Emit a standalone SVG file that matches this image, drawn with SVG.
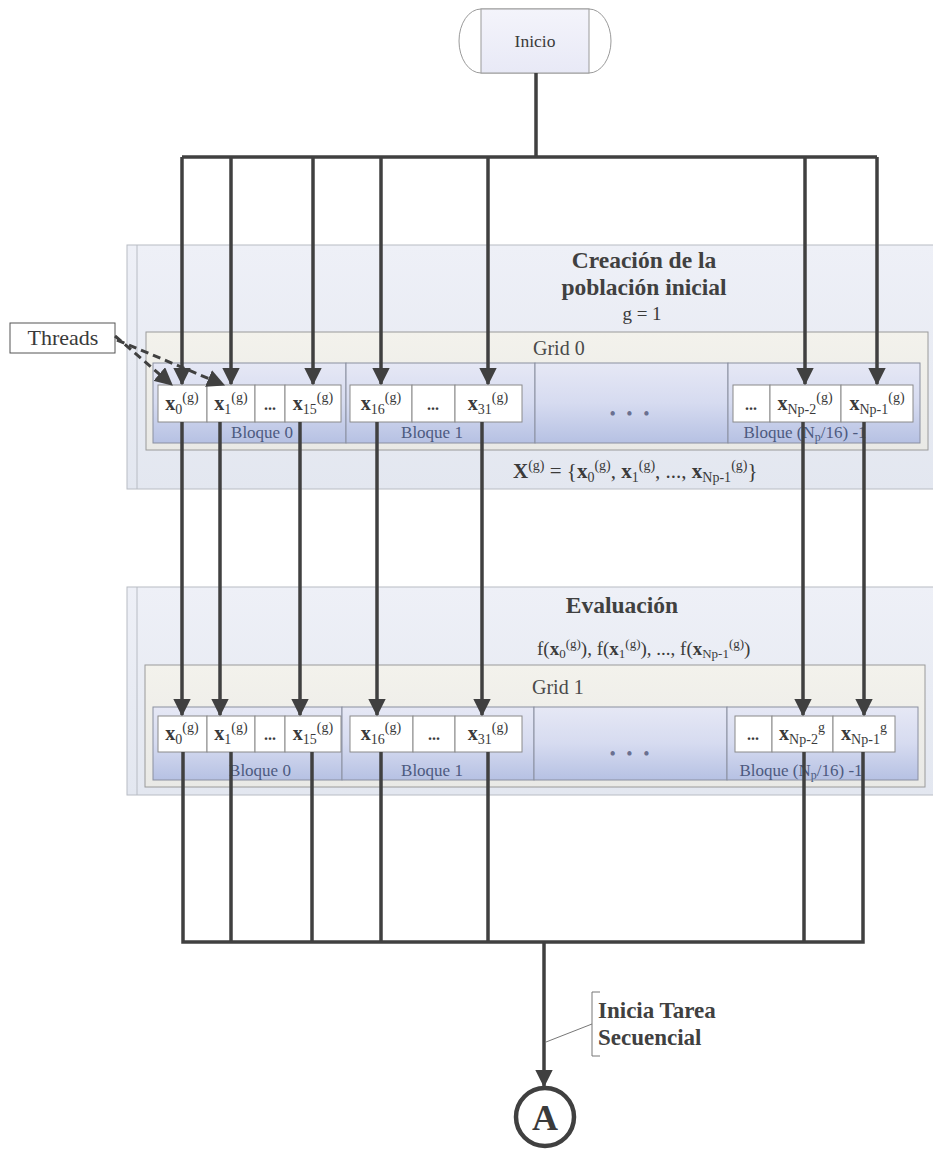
<svg xmlns="http://www.w3.org/2000/svg" width="933" height="1150" viewBox="0 0 933 1150">
<style>
text{font-family:"Liberation Serif","Times New Roman",serif;fill:#3a3a3a}
.title{font-size:23.5px;font-weight:bold;text-anchor:middle;fill:#404040}
.sub{font-size:19px;text-anchor:middle}
.grid{font-size:20px;fill:#4a4a4a}
.blk{font-size:17px;text-anchor:middle;fill:#4d5a80}
.cell{font-size:20px;text-anchor:middle}
.cell .b{font-weight:bold}
.cell .s{font-size:14px;font-weight:normal}
.dots{font-size:16px;font-weight:bold;text-anchor:middle}
.mdots{font-size:18px;text-anchor:middle;fill:#6a7090;letter-spacing:3px}
.outer{fill:url(#gOuter);stroke:#b8bcc4;stroke-width:1}
.gridbox{fill:url(#gGrid);stroke:#9a9a9a;stroke-width:1}
.block{fill:url(#gBlock);stroke:#8a8fa0;stroke-width:1}
.cellbox{fill:#ffffff;stroke:#8a8a8a;stroke-width:1}
.con{fill:none;stroke:#404040;stroke-width:3.5}
.dash{fill:none;stroke:#404040;stroke-width:3;stroke-dasharray:8 5}
.form{font-size:21px}
.lbl{font-size:23px;font-weight:bold;fill:#404040}
</style>
<defs>
<linearGradient id="gOuter" x1="0" y1="0" x2="0" y2="1">
<stop offset="0" stop-color="#eef0f7"/><stop offset="1" stop-color="#e3e7f0"/>
</linearGradient>
<linearGradient id="gGrid" x1="0" y1="0" x2="0" y2="1">
<stop offset="0" stop-color="#f3f2ec"/><stop offset="1" stop-color="#e9e9e6"/>
</linearGradient>
<linearGradient id="gBlock" x1="0" y1="0" x2="0" y2="1">
<stop offset="0" stop-color="#e6e8f5"/><stop offset="0.5" stop-color="#d6dbf0"/><stop offset="1" stop-color="#b6c1e3"/>
</linearGradient>
<linearGradient id="gInicio" x1="0" y1="0" x2="0" y2="1">
<stop offset="0" stop-color="#f4f4fb"/><stop offset="1" stop-color="#e8e9f6"/>
</linearGradient>
<marker id="arr" markerWidth="5" markerHeight="5" refX="4.6" refY="2.5" orient="auto" markerUnits="strokeWidth">
<path d="M0,0 L5,2.5 L0,5 Z" fill="#404040"/>
</marker>
<marker id="arrd" markerWidth="6" markerHeight="6" refX="5.6" refY="3" orient="auto" markerUnits="strokeWidth">
<path d="M0,0 L6,3 L0,6 Z" fill="#404040"/>
</marker>
</defs>

<!-- Inicio -->
<g id="inicio">
<path d="M481,9 H589 A22,32 0 0 1 589,73 H481 A22,32 0 0 1 481,9 Z" fill="#ffffff" stroke="#9a9a9a" stroke-width="1"/>
<rect x="481" y="9" width="108" height="64" fill="url(#gInicio)" stroke="#9a9a9a" stroke-width="1"/>
<text x="535" y="47" font-size="17.5" text-anchor="middle" fill="#444">Inicio</text>
</g>

<!-- Creación de la población inicial -->
<g id="creacion">
<rect class="outer" x="127" y="245" width="820" height="244"/>
<line x1="137" y1="245" x2="137" y2="489" stroke="#b8bcc4" stroke-width="1"/>
<text class="title" x="644" y="268">Creación de la</text>
<text class="title" x="644" y="295">población inicial</text>
<text class="sub" x="642" y="320">g = 1</text>
<text class="form" x="513" y="478"><tspan font-weight="bold">X</tspan><tspan font-size="14" dy="-8">(g)</tspan><tspan dy="8"> = {</tspan><tspan font-weight="bold">x</tspan><tspan font-size="14" dy="4">0</tspan><tspan font-size="14" dy="-12">(g)</tspan><tspan dy="8">, </tspan><tspan font-weight="bold">x</tspan><tspan font-size="14" dy="4">1</tspan><tspan font-size="14" dy="-12">(g)</tspan><tspan dy="8">, ..., </tspan><tspan font-weight="bold">x</tspan><tspan font-size="14" dy="4">Np-1</tspan><tspan font-size="14" dy="-12">(g)</tspan><tspan dy="8">}</tspan></text>
</g>

<g id="grid0">
<rect class="gridbox" x="146" y="332" width="782" height="118"/>
<text class="grid" x="533" y="355">Grid 0</text>
</g>

<g id="g0-bloque0">
<rect class="block" x="153" y="363" width="193" height="80"/>
<rect class="cellbox" x="158" y="385" width="49" height="37"/>
<rect class="cellbox" x="207" y="385" width="48" height="37"/>
<rect class="cellbox" x="255" y="385" width="30" height="37"/>
<rect class="cellbox" x="285" y="385" width="56" height="37"/>
<text class="cell" x="182" y="410"><tspan class="b">x</tspan><tspan class="s" dy="4">0</tspan><tspan class="s" dy="-12">(g)</tspan></text>
<text class="cell" x="231" y="410"><tspan class="b">x</tspan><tspan class="s" dy="4">1</tspan><tspan class="s" dy="-12">(g)</tspan></text>
<text class="dots" x="270" y="410">...</text>
<text class="cell" x="313" y="410"><tspan class="b">x</tspan><tspan class="s" dy="4">15</tspan><tspan class="s" dy="-12">(g)</tspan></text>
<text class="blk" x="262" y="438">Bloque 0</text>
</g>

<g id="g0-bloque1">
<rect class="block" x="346" y="363" width="189" height="80"/>
<rect class="cellbox" x="350" y="385" width="62" height="37"/>
<rect class="cellbox" x="412" y="385" width="43" height="37"/>
<rect class="cellbox" x="455" y="385" width="67" height="37"/>
<text class="cell" x="381" y="410"><tspan class="b">x</tspan><tspan class="s" dy="4">16</tspan><tspan class="s" dy="-12">(g)</tspan></text>
<text class="dots" x="433" y="410">...</text>
<text class="cell" x="488" y="410"><tspan class="b">x</tspan><tspan class="s" dy="4">31</tspan><tspan class="s" dy="-12">(g)</tspan></text>
<text class="blk" x="432" y="438">Bloque 1</text>
</g>

<g id="g0-bloquemid">
<rect class="block" x="535" y="363" width="193" height="80"/>
<text class="mdots" x="631" y="420">• • •</text>
</g>

<g id="g0-bloquelast">
<rect class="block" x="728" y="363" width="192" height="80"/>
<rect class="cellbox" x="733" y="385" width="37" height="37"/>
<rect class="cellbox" x="770" y="385" width="71" height="37"/>
<rect class="cellbox" x="841" y="385" width="72" height="37"/>
<text class="dots" x="751" y="410">...</text>
<text class="cell" x="805" y="410"><tspan class="b">x</tspan><tspan class="s" dy="4">Np-2</tspan><tspan class="s" dy="-12">(g)</tspan></text>
<text class="cell" x="877" y="410"><tspan class="b">x</tspan><tspan class="s" dy="4">Np-1</tspan><tspan class="s" dy="-12">(g)</tspan></text>
<text class="blk" x="805" y="438">Bloque (N<tspan font-size="12" dy="3">p</tspan><tspan dy="-3">/16) -1</tspan></text>
</g>

<!-- Evaluación -->
<g id="evaluacion">
<rect class="outer" x="127" y="587" width="820" height="208"/>
<line x1="137" y1="587" x2="137" y2="795" stroke="#b8bcc4" stroke-width="1"/>
<text class="title" x="622" y="613">Evaluación</text>
<text x="537" y="655" font-size="19">f(<tspan font-weight="bold">x</tspan><tspan font-size="13" dy="3">0</tspan><tspan font-size="13" dy="-10">(g)</tspan><tspan dy="7">), f(</tspan><tspan font-weight="bold">x</tspan><tspan font-size="13" dy="3">1</tspan><tspan font-size="13" dy="-10">(g)</tspan><tspan dy="7">), ..., f(</tspan><tspan font-weight="bold">x</tspan><tspan font-size="13" dy="3">Np-1</tspan><tspan font-size="13" dy="-10">(g)</tspan><tspan dy="7">)</tspan></text>
</g>

<g id="grid1">
<rect class="gridbox" x="145" y="665" width="780" height="122"/>
<text class="grid" x="532" y="694">Grid 1</text>
</g>

<g id="g1-bloque0">
<rect class="block" x="153" y="707" width="189" height="73"/>
<rect class="cellbox" x="158" y="716" width="49" height="36"/>
<rect class="cellbox" x="207" y="716" width="48" height="36"/>
<rect class="cellbox" x="255" y="716" width="30" height="36"/>
<rect class="cellbox" x="285" y="716" width="56" height="36"/>
<text class="cell" x="182" y="740"><tspan class="b">x</tspan><tspan class="s" dy="4">0</tspan><tspan class="s" dy="-12">(g)</tspan></text>
<text class="cell" x="231" y="740"><tspan class="b">x</tspan><tspan class="s" dy="4">1</tspan><tspan class="s" dy="-12">(g)</tspan></text>
<text class="dots" x="270" y="740">...</text>
<text class="cell" x="313" y="740"><tspan class="b">x</tspan><tspan class="s" dy="4">15</tspan><tspan class="s" dy="-12">(g)</tspan></text>
<text class="blk" x="260" y="776">Bloque 0</text>
</g>

<g id="g1-bloque1">
<rect class="block" x="342" y="707" width="192" height="73"/>
<rect class="cellbox" x="350" y="716" width="63" height="36"/>
<rect class="cellbox" x="413" y="716" width="42" height="36"/>
<rect class="cellbox" x="455" y="716" width="67" height="36"/>
<text class="cell" x="381" y="740"><tspan class="b">x</tspan><tspan class="s" dy="4">16</tspan><tspan class="s" dy="-12">(g)</tspan></text>
<text class="dots" x="434" y="740">...</text>
<text class="cell" x="488" y="740"><tspan class="b">x</tspan><tspan class="s" dy="4">31</tspan><tspan class="s" dy="-12">(g)</tspan></text>
<text class="blk" x="432" y="776">Bloque 1</text>
</g>

<g id="g1-bloquemid">
<rect class="block" x="534" y="707" width="193" height="73"/>
<text class="mdots" x="631" y="760">• • •</text>
</g>

<g id="g1-bloquelast">
<rect class="block" x="727" y="707" width="191" height="73"/>
<rect class="cellbox" x="735" y="716" width="37" height="36"/>
<rect class="cellbox" x="772" y="716" width="61" height="36"/>
<rect class="cellbox" x="833" y="716" width="62" height="36"/>
<text class="dots" x="753" y="740">...</text>
<text class="cell" x="802" y="740"><tspan class="b">x</tspan><tspan class="s" dy="4">Np-2</tspan><tspan class="s" dy="-12">g</tspan></text>
<text class="cell" x="864" y="740"><tspan class="b">x</tspan><tspan class="s" dy="4">Np-1</tspan><tspan class="s" dy="-12">g</tspan></text>
<text class="blk" x="801" y="776">Bloque (N<tspan font-size="12" dy="3">p</tspan><tspan dy="-3">/16) -1</tspan></text>
</g>

<!-- Threads -->
<g id="threads">
<rect x="10" y="323" width="105" height="30" fill="#ffffff" stroke="#555" stroke-width="1"/>
<text x="63" y="345" font-size="22" text-anchor="middle" fill="#404040">Threads</text>
</g>

<!-- Inicia Tarea Secuencial -->
<g id="label-inicia">
<path d="M600,992 H592 V1056 H600" fill="none" stroke="#777" stroke-width="1"/>
<text class="lbl" x="598" y="1018">Inicia Tarea</text>
<text class="lbl" x="598" y="1045">Secuencial</text>
</g>

<!-- Connector A -->
<g id="conector-A">
<circle cx="545" cy="1117" r="29" fill="#ffffff" stroke="#404040" stroke-width="4.5"/>
<text x="545" y="1130" font-size="36" font-weight="bold" text-anchor="middle" fill="#404040">A</text>
</g>

<!-- Connectors -->
<g id="connectors">
<path class="con" d="M536,73 V157 M182,157 H877"/>
<path class="con" d="M182,157 V384" marker-end="url(#arr)"/>
<path class="con" d="M231,157 V384" marker-end="url(#arr)"/>
<path class="con" d="M313,157 V384" marker-end="url(#arr)"/>
<path class="con" d="M381,157 V384" marker-end="url(#arr)"/>
<path class="con" d="M488,157 V384" marker-end="url(#arr)"/>
<path class="con" d="M805,157 V384" marker-end="url(#arr)"/>
<path class="con" d="M877,157 V384" marker-end="url(#arr)"/>

<path class="con" d="M182,422 V715" marker-end="url(#arr)"/>
<path class="con" d="M220,422 V715" marker-end="url(#arr)"/>
<path class="con" d="M300,422 V715" marker-end="url(#arr)"/>
<path class="con" d="M377,422 V715" marker-end="url(#arr)"/>
<path class="con" d="M482,422 V715" marker-end="url(#arr)"/>
<path class="con" d="M803,422 V715" marker-end="url(#arr)"/>
<path class="con" d="M864,422 V715" marker-end="url(#arr)"/>

<path class="con" d="M183,752 V942 H863 V752 M231,752 V942 M312,752 V942 M381,752 V942 M488,752 V942 M804,752 V942"/>
<path class="con" d="M544,942 V1086" marker-end="url(#arr)"/>

<path class="dash" d="M115,336 L172,385" marker-end="url(#arrd)"/>
<path class="dash" d="M117,340 L224,385" marker-end="url(#arrd)"/>
<line x1="592" y1="1024" x2="546" y2="1042" stroke="#777" stroke-width="1"/>
</g>
</svg>
